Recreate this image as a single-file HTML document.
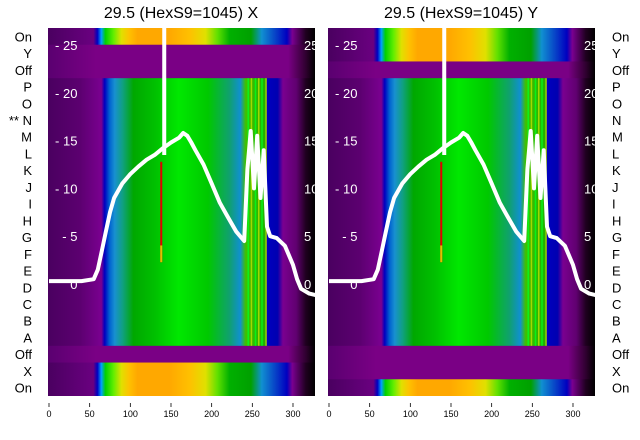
<!DOCTYPE html>
<html><head><meta charset="utf-8"><style>
html,body{margin:0;padding:0;background:#fff;}
svg{display:block;font-family:"Liberation Sans","DejaVu Sans",sans-serif;}
</style></head><body>
<svg id="chart" width="640" height="440">
<defs>
<linearGradient id="gBody" x1="0" x2="1" y1="0" y2="0">
<stop offset="0" stop-color="#4a0060"/><stop offset="0.12" stop-color="#5c0070"/><stop offset="0.2" stop-color="#7a0090"/>
<stop offset="0.212" stop-color="#0000c0"/><stop offset="0.23" stop-color="#0060d0"/><stop offset="0.25" stop-color="#1890d0"/>
<stop offset="0.28" stop-color="#10a080"/><stop offset="0.32" stop-color="#00a800"/><stop offset="0.4" stop-color="#00c000"/>
<stop offset="0.49" stop-color="#00e800"/><stop offset="0.6" stop-color="#00c800"/><stop offset="0.68" stop-color="#10a070"/>
<stop offset="0.72" stop-color="#1090d0"/><stop offset="0.74" stop-color="#40c000"/><stop offset="0.815" stop-color="#20b000"/>
<stop offset="0.82" stop-color="#0000c0"/><stop offset="0.86" stop-color="#0000b0"/><stop offset="0.88" stop-color="#7a0090"/>
<stop offset="0.93" stop-color="#600070"/><stop offset="0.965" stop-color="#200020"/><stop offset="1" stop-color="#000"/>
</linearGradient>
<linearGradient id="gOn" x1="0" x2="1" y1="0" y2="0">
<stop offset="0" stop-color="#4a0060"/><stop offset="0.17" stop-color="#6a0080"/><stop offset="0.185" stop-color="#0000c0"/>
<stop offset="0.2" stop-color="#00a0ff"/><stop offset="0.215" stop-color="#00d000"/><stop offset="0.245" stop-color="#60ee00"/>
<stop offset="0.275" stop-color="#e0e000"/><stop offset="0.305" stop-color="#ffc000"/><stop offset="0.335" stop-color="#ffa800"/>
<stop offset="0.455" stop-color="#ffa800"/><stop offset="0.53" stop-color="#ffc000"/><stop offset="0.59" stop-color="#e0e000"/>
<stop offset="0.635" stop-color="#60e000"/><stop offset="0.68" stop-color="#00b000"/><stop offset="0.76" stop-color="#00a000"/>
<stop offset="0.8" stop-color="#1090d0"/><stop offset="0.895" stop-color="#0000c0"/><stop offset="0.915" stop-color="#7a0090"/>
<stop offset="0.965" stop-color="#200020"/><stop offset="1" stop-color="#000"/>
</linearGradient>
<linearGradient id="gOff" x1="0" x2="1" y1="0" y2="0">
<stop offset="0" stop-color="#5a0070"/><stop offset="0.18" stop-color="#7a0085"/><stop offset="0.9" stop-color="#7a0085"/>
<stop offset="0.965" stop-color="#300030"/><stop offset="1" stop-color="#000"/>
</linearGradient>
<clipPath id="clipL"><rect x="48" y="28" width="267" height="368"/></clipPath>
<clipPath id="clipR"><rect x="328" y="28" width="267" height="368"/></clipPath>
</defs>
<g id="layer"></g>
</svg>
<script>
const rowLabels = ["On","Y","Off","P","O","N","M","L","K","J","I","H","G","F","E","D","C","B","A","Off","X","On"];
const bandsLeft  = ["on","off","off","body","body","body","body","body","body","body","body","body","body","body","body","body","body","body","body","off","on","on"];
const bandsRight = ["on","on","off","body","body","body","body","body","body","body","body","body","body","body","body","body","body","body","body","off","off","on"];
const xTicks = [0,50,100,150,200,250,300];
const yTicks = [0,5,10,15,20,25];
const curveX = [0,20,40,55,60,65,70,75,80,90,100,110,120,130,140,150,160,165,170,175,180,190,200,210,220,230,240,244,248,252,256,260,264,268,272,280,290,300,305,310,320,330];
const curveY = [0.3,0.3,0.3,0.5,1.5,3.5,5.5,7.5,9,10.5,11.5,12.3,13,13.5,14.2,14.8,15.3,15.8,15.5,14.8,14,12.5,10.5,8.5,7,5.5,4.5,12,16,10,15.5,9,14,6,5,4.8,4,2,0.5,-0.5,-1,-1.2];
const stripeX = [244,248,253,257,261,266];
const markerX = 138;

const svg = document.getElementById('chart');
const layer = document.getElementById('layer');
const NS = 'http://www.w3.org/2000/svg';
const top0 = 28, bot0 = 396;
const rowH = (bot0 - top0) / rowLabels.length;
function mk(t, a){const e=document.createElementNS(NS,t);for(const k in a)e.setAttribute(k,a[k]);return e;}
function yPix(v){return 284 - v * 9.56;}

const panels = [
  {x0:48, title:"29.5 (HexS9=1045) X", bands:bandsLeft, clip:"clipL", name:"x", labelsLeft:true},
  {x0:328, title:"29.5 (HexS9=1045) Y", bands:bandsRight, clip:"clipR", name:"y", labelsLeft:false}
];
panels.forEach(p => {
  const xPix = v => p.x0 + 1 + v * 0.8133;
  const g = mk('g', {'clip-path':`url(#${p.clip})`});
  
  
  layer.appendChild(g);
  p.bands.forEach((b, i) => {
    const fill = b === 'on' ? 'url(#gOn)' : b === 'off' ? 'url(#gOff)' : 'url(#gBody)';
    const r = mk('rect', {x:p.x0, y:top0 + i*rowH, width:267, height:rowH + 0.5, fill});
    
    
    g.appendChild(r);
  });
  // stripes in the body rows
  stripeX.forEach((v, k) => {
    const s = mk('rect', {x:xPix(v), y:top0+3*rowH, width:1.5, height:16*rowH, fill: k % 2 ? '#c0e000' : '#00ff20', opacity:0.8});
    
    
    g.appendChild(s);
  });
  // red marker stripe
  const rs = mk('rect', {x:xPix(markerX)-1, y:top0+8*rowH, width:2, height:6*rowH, fill:'#e00000'});
  
  
  g.appendChild(rs);
  const ys = mk('rect', {x:xPix(markerX)-1, y:top0+13*rowH, width:2, height:rowH, fill:'#e0c000'});
  
  
  g.appendChild(ys);
  // vertical white line
  const vl = mk('line', {x1:xPix(markerX)+3, x2:xPix(markerX)+3, y1:top0, y2:yPix(13.5), stroke:'#fff', 'stroke-width':4});
  
  
  g.appendChild(vl);
  // y tick labels (white)
  yTicks.forEach(v => {
    const t = mk('text', {x:xPix(35), y:yPix(v)+5, fill:'#fff', 'font-size':13, 'text-anchor':'end'});
    t.textContent = v === 0 ? '0' : '- ' + v;
    
    
    g.appendChild(t);
    const t2 = mk('text', {x:p.x0+256, y:yPix(v)+5, fill:'#fff', 'font-size':13});
    t2.textContent = v;
    
    
    g.appendChild(t2);
  });
  // curve
  const d = curveX.map((v,i)=>(i?'L':'M')+xPix(v).toFixed(1)+','+yPix(curveY[i]).toFixed(1)).join(' ');
  const path = mk('path', {d, fill:'none', stroke:'#fff', 'stroke-width':4, 'stroke-linejoin':'round'});
  
  
  g.appendChild(path);
  // title
  const tt = mk('text', {x:p.x0+133, y:18, 'font-size':16, 'text-anchor':'middle', fill:'#000'});
  tt.textContent = p.title;
  
  
  svg.appendChild(tt);
  // x ticks
  xTicks.forEach(v => {
    const l = mk('line', {x1:xPix(v), x2:xPix(v), y1:403, y2:407, stroke:'#000', 'stroke-width':0.8});
    
    
    svg.appendChild(l);
    const t = mk('text', {x:xPix(v), y:417, 'font-size':9, 'text-anchor':'middle', fill:'#000'});
    t.textContent = v;
    
    
    svg.appendChild(t);
  });
  // row labels
  rowLabels.forEach((lab, i) => {
    const y = top0 + (i+0.5)*rowH + 5;
    const t = p.labelsLeft
      ? mk('text', {x:32, y, 'font-size':13, 'text-anchor':'end', fill:'#000'})
      : mk('text', {x:612, y, 'font-size':13, fill:'#000'});
    t.textContent = (p.labelsLeft && lab === 'N' && i === 5) ? '** N' : lab;
    
    
    svg.appendChild(t);
  });
});
</script>
</body></html>
